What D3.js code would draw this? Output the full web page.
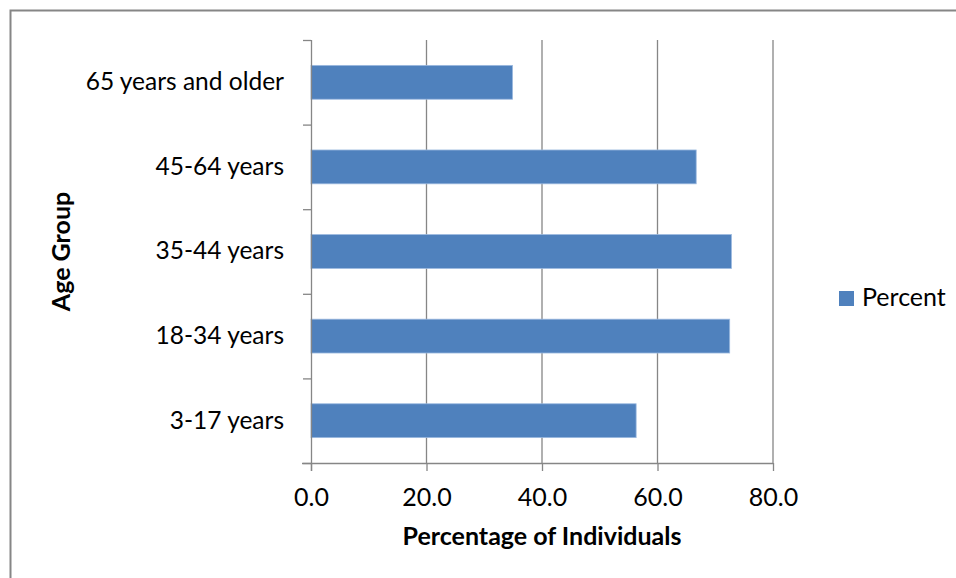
<!DOCTYPE html>
<html>
<head>
<meta charset="utf-8">
<script src="https://cdnjs.cloudflare.com/ajax/libs/d3/7.8.5/d3.min.js"></script>
<style>
  html, body { margin: 0; padding: 0; background: #fff; }
  svg { display: block; }
  text { font-family: Lato, "Open Sans", sans-serif; fill: #000; }
</style>
</head>
<body>
<svg id="chart" width="956" height="578"></svg>
<script>
// Age groups, listed top to bottom as drawn
const categories = ["65 years and older", "45-64 years", "35-44 years", "18-34 years", "3-17 years"];
// Percentage of individuals in each age group
const percentValues = [34.9, 66.7, 72.8, 72.5, 56.3];
const xTickValues = [0, 20, 40, 60, 80];
const seriesName = "Percent";
const xTitle = "Percentage of Individuals";
const yTitle = "Age Group";

const svg = d3.select("#chart");
const gray = "#868686";
const barColor = "#4F81BD";

const plot = { left: 311, right: 773, top: 40, bottom: 463 };

// outer chart frame
svg.append("rect")
  .attr("x", 10.5).attr("y", 10.5)
  .attr("width", 1000).attr("height", 1000)
  .attr("fill", "none").attr("stroke", gray).attr("stroke-width", 2);

const x = d3.scaleLinear().domain([0, 80]).range([plot.left, plot.right]);
const y = d3.scaleBand().domain(categories)
  .range([plot.top, plot.bottom]).paddingInner(0.6).paddingOuter(0.3);

// vertical gridlines
svg.append("g").selectAll("line")
  .data(xTickValues.filter(d => d > 0))
  .join("line")
  .attr("x1", d => x(d)).attr("x2", d => x(d))
  .attr("y1", plot.top).attr("y2", plot.bottom)
  .attr("stroke", gray).attr("stroke-width", 1.3);

// bars
svg.append("g").selectAll("rect")
  .data(categories.map((c, i) => ({ c, v: percentValues[i] })))
  .join("rect")
  .attr("x", x(0))
  .attr("y", d => y(d.c))
  .attr("width", d => x(d.v) - x(0))
  .attr("height", y.bandwidth())
  .attr("fill", barColor)
  .attr("stroke", "#9bb9df").attr("stroke-width", 0.8);

// x axis
const xAxis = svg.append("g")
  .attr("transform", `translate(0,${plot.bottom})`)
  .call(d3.axisBottom(x).tickValues(xTickValues).tickSize(8).tickSizeOuter(0).tickFormat(d3.format(".1f")));
xAxis.select(".domain").remove();
xAxis.selectAll(".tick line").attr("stroke", gray).attr("stroke-width", 1.3);
xAxis.selectAll(".tick text").attr("y", 27).attr("dy", 0).attr("dominant-baseline", "auto")
  .attr("transform", "translate(0,16)")
  .style("font-size", "25px");
xAxis.append("line")
  .attr("x1", plot.left - 9).attr("x2", x(80))
  .attr("y1", 0.5).attr("y2", 0.5)
  .attr("stroke", gray).attr("stroke-width", 1.3);

// y axis: boundary ticks between groups
const yEdge = d3.scaleLinear().domain([0, categories.length]).range([plot.top, plot.bottom]);
const yAxis = svg.append("g")
  .attr("transform", `translate(${plot.left},0)`)
  .call(d3.axisLeft(yEdge).ticks(categories.length).tickSize(8).tickSizeOuter(0).tickFormat(""));
yAxis.select(".domain").attr("stroke", gray).attr("stroke-width", 1.3)
  .attr("d", `M0.5,${plot.top}V${plot.bottom + 8}`);
yAxis.selectAll(".tick line").attr("stroke", gray).attr("stroke-width", 1.3);

// y category labels
const yLabels = svg.append("g")
  .attr("transform", `translate(${plot.left},0)`)
  .call(d3.axisLeft(y).tickSize(0).tickPadding(27));
yLabels.select(".domain").remove();
yLabels.selectAll(".tick text").style("font-size", "24.5px").attr("dy", "0.32em");

// axis titles
svg.append("text")
  .attr("x", (plot.left + plot.right) / 2).attr("y", 545)
  .attr("text-anchor", "middle")
  .style("font-size", "25px").style("font-weight", "bold")
  .text(xTitle);

svg.append("text")
  .attr("transform", `translate(70,${(plot.top + plot.bottom) / 2}) rotate(-90)`)
  .attr("text-anchor", "middle")
  .style("font-size", "25px").style("font-weight", "bold")
  .text(yTitle);

// legend
const legend = svg.append("g").attr("transform", "translate(839,291)");
legend.append("rect").attr("width", 15).attr("height", 15).attr("fill", barColor);
legend.append("text").attr("x", 23).attr("y", 15).style("font-size", "25px").text(seriesName);
</script>
</body>
</html>
